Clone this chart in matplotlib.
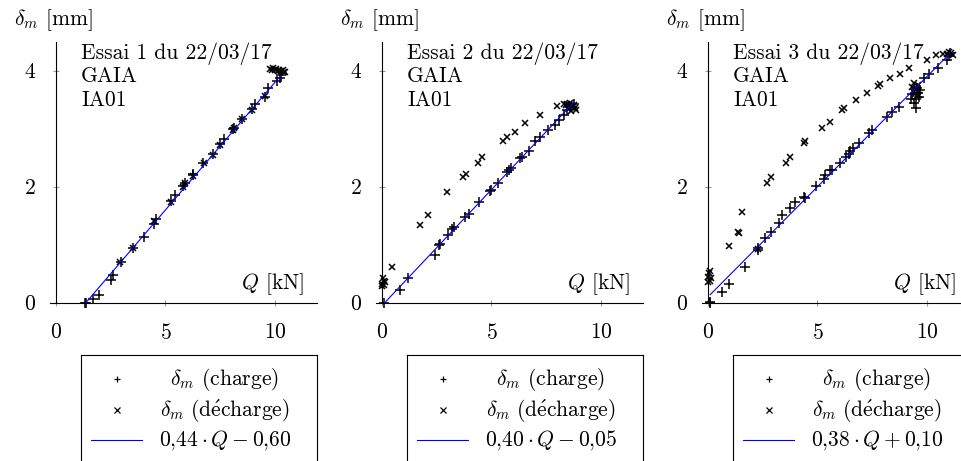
import matplotlib
matplotlib.use("Agg")
import matplotlib.pyplot as plt

plt.rcParams["font.family"] = "serif"
plt.rcParams["font.serif"] = ["cmr10"]
plt.rcParams["mathtext.fontset"] = "cm"
plt.rcParams["axes.formatter.use_mathtext"] = True

# ---------------- data ----------------
titles = ["Essai 1 du 22/03/17", "Essai 2 du 22/03/17", "Essai 3 du 22/03/17"]
subtitle1 = "GAIA"
subtitle2 = "IA01"

slopes = [0.44, 0.40, 0.38]
intercepts = [-0.60, -0.05, 0.10]
fit_labels = [r"$0{,}44\cdot Q-0{,}60$", r"$0{,}40\cdot Q-0{,}05$", r"$0{,}38\cdot Q+0{,}10$"]

q1_c = [1.32, 1.36, 1.70, 1.96, 2.51, 2.59, 2.95, 3.53, 4.03, 4.47, 4.57, 5.25, 5.43, 5.80, 5.89, 6.24,
        6.27, 6.73, 7.15, 7.49, 7.67, 8.10, 8.13, 8.48, 8.93, 9.10, 9.54, 9.69, 10.10, 10.23, 10.27]
d1_c = [0.00, 0.00, 0.06, 0.14, 0.39, 0.48, 0.70, 0.94, 1.14, 1.36, 1.44, 1.75, 1.86, 2.01, 2.06, 2.20,
        2.22, 2.41, 2.56, 2.73, 2.82, 2.99, 3.02, 3.17, 3.34, 3.42, 3.55, 3.70, 3.83, 3.88, 3.93]
q1_d = [2.92, 3.50, 4.47, 5.24, 5.78, 5.89, 6.24, 6.75, 7.15, 7.49, 8.10, 8.13, 8.48, 8.93, 9.54, 9.77,
        9.85, 9.92, 10.00, 10.05, 10.12, 10.20, 10.28, 10.35, 10.42, 10.46]
d1_d = [0.71, 0.95, 1.40, 1.74, 2.00, 2.06, 2.19, 2.40, 2.55, 2.72, 2.97, 3.01, 3.16, 3.33, 3.56, 4.03,
        4.02, 4.04, 4.01, 4.03, 4.00, 4.02, 3.99, 4.01, 3.98, 3.97]

q2_c = [0.08, 0.83, 1.21, 2.40, 2.60, 2.65, 3.00, 3.20, 3.30, 3.79, 3.97, 4.44, 4.92, 5.00, 5.30, 5.70,
        5.80, 5.90, 6.30, 6.40, 6.70, 6.97, 7.20, 7.57, 7.88, 8.10, 8.33, 8.44, 8.60, 8.75]
d2_c = [0.00, 0.22, 0.42, 0.83, 0.99, 1.01, 1.17, 1.27, 1.30, 1.47, 1.53, 1.73, 1.93, 1.95, 2.07, 2.25,
        2.28, 2.33, 2.49, 2.52, 2.62, 2.78, 2.86, 2.98, 3.06, 3.15, 3.24, 3.32, 3.38, 3.42]
q2_d = [0.00, 0.02, 0.05, 0.08, 0.10, 0.12, 0.45, 1.74, 2.08, 2.98, 3.71, 3.82, 4.39, 4.55, 5.53, 5.70,
        6.09, 6.55, 7.23, 7.98, 8.30, 8.38, 8.45, 8.52, 8.60, 8.68, 8.75, 8.82, 8.88, 8.55, 8.65]
d2_d = [0.28, 0.33, 0.42, 0.30, 0.38, 0.35, 0.62, 1.34, 1.51, 1.91, 2.16, 2.22, 2.40, 2.52, 2.78, 2.86,
        2.95, 3.09, 3.24, 3.39, 3.43, 3.41, 3.42, 3.40, 3.44, 3.38, 3.40, 3.36, 3.33, 3.35, 3.30]

q3_c = [0.10, 0.10, 0.64, 0.94, 1.67, 2.27, 2.30, 2.62, 2.88, 3.23, 3.38, 3.76, 3.99, 4.37, 4.45, 4.95,
        5.31, 5.36, 5.59, 5.67, 6.04, 6.28, 6.43, 6.50, 6.62, 6.89, 7.34, 7.49, 8.18, 8.41, 8.72, 9.25,
        9.30, 9.40, 9.48, 9.50, 9.55, 9.60, 9.65, 9.70, 9.85, 10.08, 10.50, 10.90, 11.00, 11.05]
d3_c = [0.00, 0.02, 0.18, 0.33, 0.62, 0.94, 0.90, 1.11, 1.22, 1.38, 1.51, 1.64, 1.74, 1.83, 1.80, 2.01,
        2.13, 2.20, 2.28, 2.29, 2.40, 2.52, 2.57, 2.62, 2.66, 2.75, 2.92, 2.98, 3.21, 3.29, 3.38, 3.51,
        3.60, 3.45, 3.52, 3.35, 3.70, 3.62, 3.55, 3.66, 3.87, 3.95, 4.04, 4.18, 4.25, 4.30]
q3_d = [0.00, 0.02, 0.05, 0.08, 0.10, 0.12, 0.97, 1.35, 1.40, 1.55, 2.30, 2.69, 2.88, 3.58, 3.76, 4.37,
        4.45, 5.21, 5.56, 6.12, 6.20, 6.77, 7.26, 7.75, 7.87, 8.33, 8.78, 9.16, 9.30, 9.35, 9.40, 9.45,
        9.50, 9.55, 9.60, 9.65, 10.00, 10.40, 10.75, 10.90, 11.00, 11.10, 11.20]
d3_d = [0.35, 0.45, 0.52, 0.38, 0.55, 0.42, 0.98, 1.22, 1.20, 1.57, 0.92, 2.06, 2.16, 2.40, 2.52, 2.75,
        2.78, 3.02, 3.12, 3.32, 3.35, 3.49, 3.61, 3.74, 3.77, 3.87, 3.95, 4.04, 3.72, 3.65, 3.78, 3.60,
        3.70, 3.68, 3.75, 3.58, 4.18, 4.27, 4.29, 4.28, 4.32, 4.30, 4.27]

charge_q = [q1_c, q2_c, q3_c]
charge_d = [d1_c, d2_c, d3_c]
decharge_q = [q1_d, q2_d, q3_d]
decharge_d = [d1_d, d2_d, d3_d]

x_ticks = [0, 5, 10]
y_ticks = [0, 2, 4]
lab_charge = r"$\delta_m$ (charge)"
lab_decharge = r"$\delta_m\ \mathrm{(d\acute{e}charge)}$"

# ---------------- layout ----------------
W, H = 962, 461
FS = 15.5
fig = plt.figure(figsize=(W / 100, H / 100), dpi=100)


def px_axes(left, top, width, height):
    return fig.add_axes([left / W, 1 - (top + height) / H, width / W, height / H])


XMIN, XMAX = -0.27, 11.9
YMIN, YMAX = 0.0, 4.5
PXU = 21.9
x0s = [56, 382, 708]

for i in range(3):
    x0 = x0s[i]
    ax = px_axes(x0 + XMIN * PXU, 41.7, (XMAX - XMIN) * PXU, 261)
    ax.set_xlim(XMIN, XMAX)
    ax.set_ylim(YMIN, YMAX)
    ax.patch.set_alpha(0)
    for s in ["top", "right"]:
        ax.spines[s].set_visible(False)
    ax.spines["left"].set_position(("data", 0))
    ax.spines["bottom"].set_position(("data", 0))
    for s in ["left", "bottom"]:
        ax.spines[s].set_linewidth(0.8)
    ax.set_xticks(x_ticks)
    ax.set_yticks(y_ticks)
    ax.tick_params(direction="inout", length=5, width=0.8, color="#9a9a9a",
                   labelsize=FS, pad=12)

    ax.plot(charge_q[i], charge_d[i], linestyle="none", marker="+", markersize=7,
            markeredgewidth=1.1, color="black", clip_on=False, zorder=3)
    ax.plot(decharge_q[i], decharge_d[i], linestyle="none", marker="x", markersize=5,
            markeredgewidth=1.1, color="black", clip_on=False, zorder=3)
    qa, qb = min(charge_q[i]), max(charge_q[i])
    ax.plot([qa, qb], [slopes[i] * qa + intercepts[i], slopes[i] * qb + intercepts[i]],
            color="blue", linewidth=0.8, zorder=4)

    ax.text(1.14, 4.21, titles[i], fontsize=FS, va="baseline", ha="left")
    ax.text(1.14, 3.80, subtitle1, fontsize=FS, va="baseline", ha="left")
    ax.text(1.14, 3.39, subtitle2, fontsize=FS, va="baseline", ha="left")
    ax.text(11.35, 0.24, r"$Q$ [kN]", fontsize=FS, va="baseline", ha="right")
    ax.text(-0.1, 4.78, r"$\delta_m$ [mm]", fontsize=FS, va="baseline", ha="center", clip_on=False)

    # legend box
    lg = px_axes(x0 + 25, 355, 236, 112)
    lg.set_xlim(0, 1)
    lg.set_ylim(0, 1)
    lg.set_xticks([])
    lg.set_yticks([])
    lg.spines["bottom"].set_visible(False)
    for s in ["top", "left", "right"]:
        lg.spines[s].set_linewidth(0.8)
    ry = [1 - 24 / 112, 1 - 55 / 112, 1 - 85 / 112]
    lg.plot([0.151], [ry[0]], marker="+", markersize=5, markeredgewidth=0.9, color="black")
    lg.plot([0.151], [ry[1]], marker="x", markersize=4, markeredgewidth=0.9, color="black")
    lg.plot([0.042, 0.258], [ry[2], ry[2]], color="blue", linewidth=0.8)
    lg.text(0.61, ry[0], lab_charge, fontsize=FS, ha="center", va="center")
    lg.text(0.61, ry[1], lab_decharge, fontsize=FS, ha="center", va="center")
    lg.text(0.61, ry[2], fit_labels[i], fontsize=FS, ha="center", va="center")

fig.savefig("out.png", dpi=100)
